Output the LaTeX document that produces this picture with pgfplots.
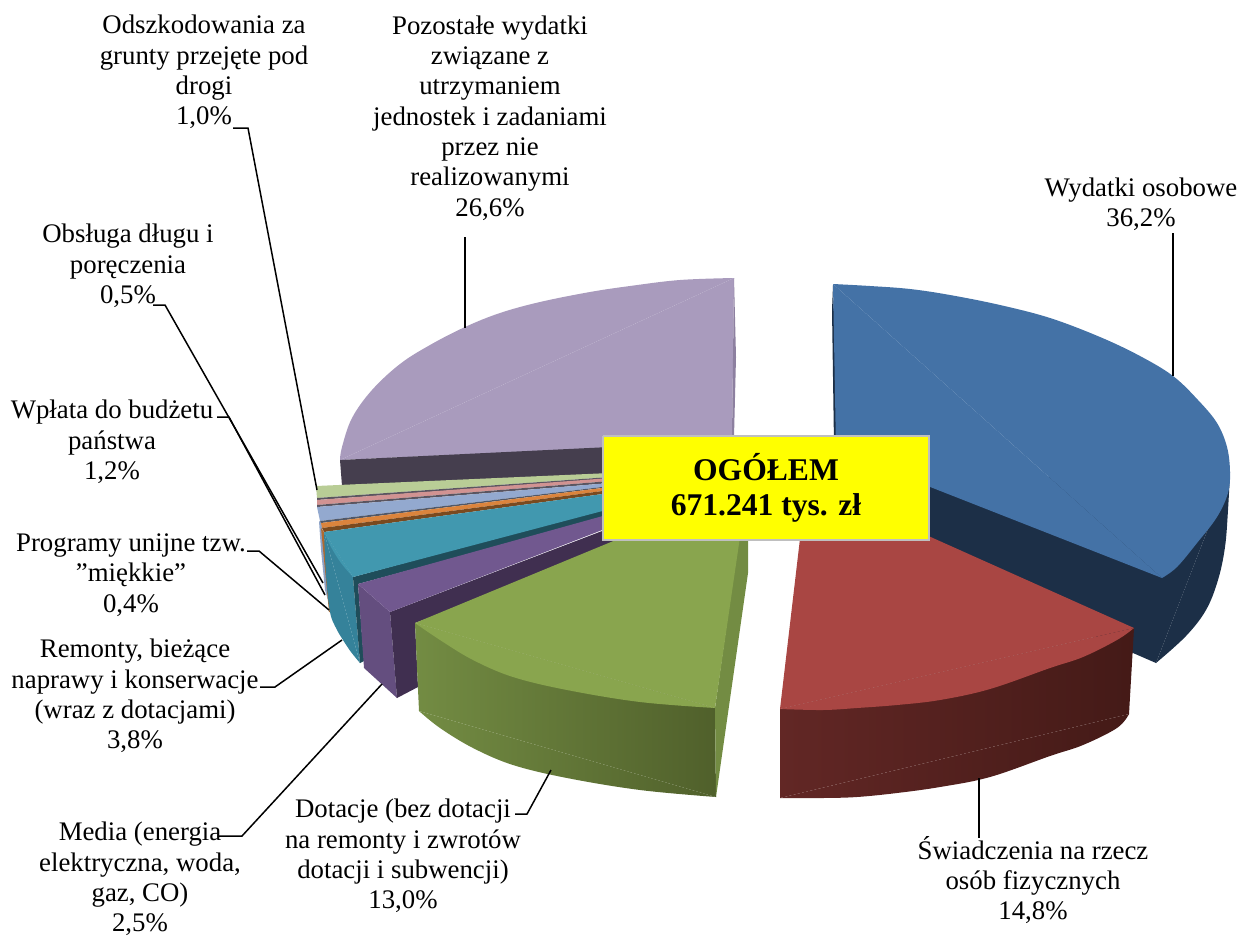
\documentclass[border=0pt]{standalone}
\usepackage{pgfplots}
\pgfplotsset{compat=1.18}
\usepackage{fontspec}
\setmainfont{Liberation Serif}
\newcommand{\slice}[2]{\addplot[fill=#1,draw=none,forget plot,mark=none] coordinates {#2};}
\newcommand{\arcfill}[2]{\addplot[fill=#1,draw=none,forget plot,mark=none,smooth,tension=0.6] coordinates {#2};}
\newcommand{\sidegrad}[3]{\addplot[left color=#1,right color=#2,draw=none,forget plot,mark=none] coordinates {#3};}
\newcommand{\arcgrad}[3]{\addplot[left color=#1,right color=#2,draw=none,forget plot,mark=none,smooth,tension=0.6] coordinates {#3};}
\newcommand{\leader}[1]{\addplot[black,line width=1.5pt,forget plot,mark=none] coordinates {#1};}
\definecolor{cyel}{RGB}{255,255,0}
\definecolor{cblue}{HTML}{4472A6}
\definecolor{cbluedk}{HTML}{1C2F47}
\definecolor{cred}{HTML}{A94643}
\definecolor{credL}{HTML}{622725}
\definecolor{credR}{HTML}{441A17}
\definecolor{cgreen}{HTML}{89A54E}
\definecolor{cgreenL}{HTML}{738C43}
\definecolor{cgreenR}{HTML}{50602B}
\definecolor{cpurple}{HTML}{71588F}
\definecolor{cpurpleS}{HTML}{644E7F}
\definecolor{cpurpleD}{HTML}{402F50}
\definecolor{cteal}{HTML}{4198AF}
\definecolor{ctealS}{HTML}{35829A}
\definecolor{ctealD}{HTML}{1F4D5A}
\definecolor{corange}{HTML}{DB843D}
\definecolor{corangeD}{HTML}{7A4A1F}
\definecolor{corangeS}{HTML}{B06A30}
\definecolor{clblue}{HTML}{93A9CF}
\definecolor{clblueS}{HTML}{8EA3C7}
\definecolor{cpink}{HTML}{D19392}
\definecolor{clgreen}{HTML}{B9CD96}
\definecolor{clav}{HTML}{A99BBD}
\definecolor{clavS}{HTML}{8D80A0}
\definecolor{clavD}{HTML}{453E4E}
\definecolor{cseam}{HTML}{5A5560}
\definecolor{cseamB}{HTML}{505868}
\tikzset{lab/.style={font=\fontsize{26.8}{30.3}\selectfont,align=center,inner sep=0pt,anchor=center}}
\begin{document}
\begin{tikzpicture}
\begin{axis}[width=1246pt,height=935pt,scale only axis,hide axis,xmin=0,xmax=1246,ymin=0,ymax=935,y dir=reverse,clip=false]
\addplot[draw=none,forget plot,mark=none] coordinates {(0,0)(1246,0)(1246,935)(0,935)(0,0)};
% lavender: Pozostałe wydatki
\arcfill{clav}{(734,278)(680,280)(630,286)(590,292)(540,302)(500,313)(465,327)(430,345)(400,364)(372,390)(352,418)(342,447)(340,460)}
\slice{clav}{(734,278)(340,460)(610,448)(732,437)(734,278)}
\slice{clavS}{(734,278)(736,357)(734,437)(732,437)(734,278)}
\slice{clavD}{(340,460)(610,447)(610,475)(342,486)(340,460)}
% thin slices
\slice{clgreen}{(316,486)(610,473)(610,477)(317,498)(316,486)}
\slice{cseam}{(317,498)(610,477)(610,479)(317,500)(317,498)}
\slice{cpink}{(317,500)(610,478)(610,481)(317,505)(317,500)}
\slice{cseam}{(317,505)(610,481)(610,483)(317,507)(317,505)}
\slice{clblue}{(317,507)(610,483)(610,486)(320,521)(317,507)}
\slice{clblueS}{(319,521)(322,523)(328,600)(325,590)(321,550)(319,521)}
\slice{cseamB}{(320,521)(610,486)(610,487)(321,523)(320,521)}
\slice{corange}{(321,523)(610,487)(610,490)(322,528)(321,523)}
\slice{corangeD}{(322,528)(610,490)(610,493)(324,532)(322,528)}
\slice{corangeS}{(321,528)(324,532)(331,612)(329,612)(321,528)}
% teal: Remonty
\arcfill{ctealS}{(324,532)(326,575)(330,612)(336,628)(343,640)(351,652)(360,663)}
\slice{ctealS}{(324,532)(360,663)(353,577)(324,532)}
\slice{ctealD}{(353,577)(610,507)(610,516)(358,584)(364,661)(360,663)(353,577)}
\arcfill{cteal}{(324,532)(331,547)(341,563)(353,577)}
\slice{cteal}{(324,532)(610,493)(610,509)(353,577)(324,532)}
% purple: Media
\slice{cpurpleS}{(358,584)(390,612)(397,698)(364,668)(358,584)}
\slice{cpurpleD}{(390,612)(610,528)(630,542)(415,623)(418,687)(397,698)(390,612)}
\slice{cpurple}{(358,584)(610,514)(610,527)(390,612)(358,584)}
% green: Dotacje
\sidegrad{cgreenL}{cgreenR}{(415,623)(419,711)(716,797)(715,708)(415,623)}
\arcgrad{cgreenL}{cgreenR}{(419,711)(440,728)(473,748)(513,765)(567,778)(640,790)(716,797)}
\slice{cgreenL}{(740,530)(748,530)(748,573)(716,797)(715,708)(740,530)}
\arcfill{cgreen}{(415,623)(440,640)(473,660)(513,677)(567,690)(640,702)(715,708)}
\slice{cgreen}{(415,623)(640,530)(741,530)(715,708)(415,623)}
% blue: Wydatki osobowe
\arcfill{cbluedk}{(1230,472)(1228,510)(1225,547)(1218,580)(1206,610)(1186,636)(1156,663)}
\slice{cbluedk}{(1230,472)(1156,663)(1133,653)(920,560)(920,480)(1230,472)}
\slice{cbluedk}{(833,285)(838,445)(834,445)(832,310)(833,285)}
\arcfill{cblue}{(833,284)(870,286)(910,289)(950,295)(1000,305)(1050,318)(1100,337)(1140,356)(1173,376)(1198,400)(1217,423)(1227,447)(1230,472)(1228,493)(1217,517)(1197,543)(1177,567)(1162,578)}
\slice{cblue}{(833,284)(1162,578)(920,483)(836,450)(833,284)}
% red: Świadczenia
\sidegrad{credL}{credR}{(780,709)(780,798)(1129,714)(1134,628)(780,709)}
\arcgrad{credL}{credR}{(780,798)(823,798)(857,797)(897,793)(940,787)(990,777)(1050,756)(1083,745)(1117,728)(1129,714)}
\arcfill{cred}{(780,709)(823,710)(857,708)(897,705)(940,700)(990,689)(1050,668)(1083,657)(1117,640)(1134,628)}
\slice{cred}{(801,530)(915,530)(1134,628)(780,709)(801,530)}
% central box
\addplot[fill=cyel,draw=black!25,line width=1.6pt,forget plot,mark=none] coordinates {(603,436)(929,436)(929,540)(603,540)(603,436)};
% leaders
\leader{(1173,233)(1173,376)}
\leader{(979,778)(979,838)}
\leader{(515,814)(527,814)(551,770)}
\leader{(218,836)(242,836)(382,684)}
\leader{(260,687)(275,687)(342,640)}
\leader{(247,551)(259,551)(329,610)}
\leader{(153,305)(165,305)(323,583)}
\leader{(217,417)(229,417)(325,595)}
\leader{(233,128)(248,128)(317,490)}
\leader{(465,237)(465,328)}
% labels
\node[lab] at (axis cs:1141,204) {Wydatki osobowe\\36,2\%};
\node[lab] at (axis cs:490,118) {Pozostałe wydatki\\związane z\\utrzymaniem\\jednostek i zadaniami\\przez nie\\realizowanymi\\26,6\%};
\node[lab] at (axis cs:204,72) {Odszkodowania za\\grunty przejęte pod\\drogi\\1,0\%};
\node[lab] at (axis cs:128,266) {Obsługa długu i\\poręczenia\\0,5\%};
\node[lab] at (axis cs:112,442) {Wpłata do budżetu\\państwa\\1,2\%};
\node[lab] at (axis cs:131,575) {Programy unijne tzw.\\\char34 miękkie\char34\\0,4\%};
\node[lab] at (axis cs:135,696) {Remonty, bieżące\\naprawy i konserwacje\\(wraz z dotacjami)\\3,8\%};
\node[lab] at (axis cs:140,879) {Media (energia\\elektryczna, woda,\\gaz, CO)\\2,5\%};
\node[lab] at (axis cs:403,856) {Dotacje (bez dotacji\\na remonty i zwrotów\\dotacji i subwencji)\\13,0\%};
\node[lab] at (axis cs:1033,880) {Świadczenia na rzecz\\osób fizycznych\\14,8\%};
\node[font=\fontsize{31.6}{35.5}\selectfont\bfseries,align=center,inner sep=0pt] at (axis cs:766,488) {OGÓŁEM\\671.241 tys. zł};
\end{axis}
\end{tikzpicture}
\end{document}
